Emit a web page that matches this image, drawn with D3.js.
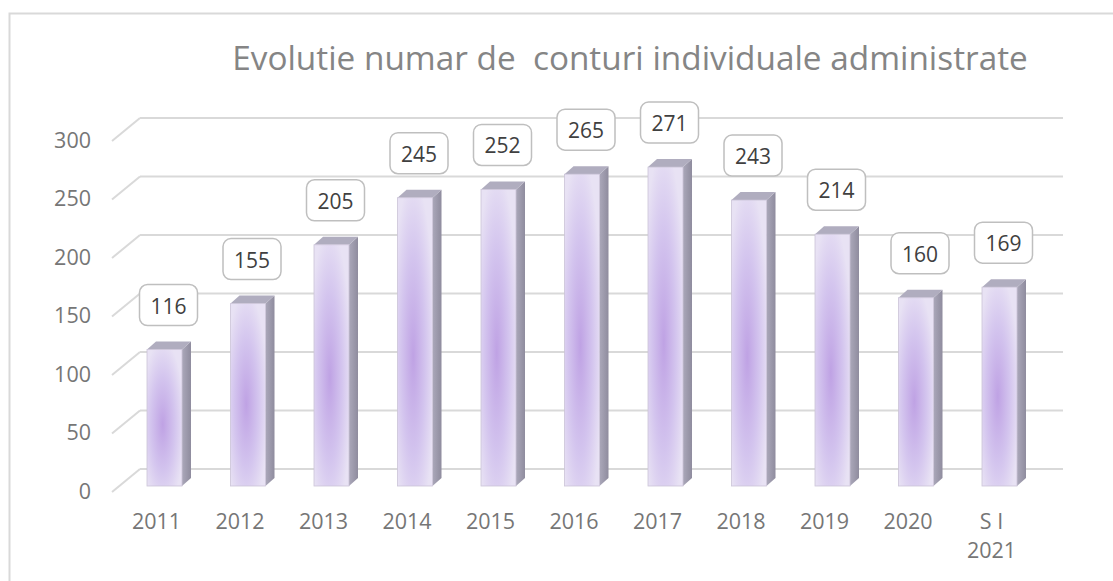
<!DOCTYPE html>
<meta charset="utf-8">
<head>
<script src="https://d3js.org/d3.v7.min.js"></script>
<style>
  body { margin: 0; background: #fff; }
  text { font-family: "Open Sans", sans-serif; }
</style>
</head>
<body>
<div id="chart"></div>
<script>

// data
var categories = ["2011", "2012", "2013", "2014", "2015", "2016", "2017", "2018", "2019", "2020", "S I\n2021"];
var values = [116, 155, 205, 245, 252, 265, 271, 243, 214, 160, 169];
var yTicks = [0, 50, 100, 150, 200, 250, 300];
var title = "Evolutie numar de  conturi individuale administrate";

var W = 1113, H = 581;
var depthX = 9, depthY = 8;      // bar depth offset
var floorX = 28, floorY = 23;    // front-to-back wall offset
var barW = 35;

var svg = d3.select("#chart").append("svg")
    .attr("width", W).attr("height", H);

// gradients
var defs = svg.append("defs");
var front = defs.append("radialGradient").attr("id", "front")
    .attr("cx", "0.45").attr("cy", "0.55").attr("r", "0.62");
front.append("stop").attr("offset", "0%").attr("stop-color", "#bfa2e4");
front.append("stop").attr("offset", "55%").attr("stop-color", "#d3c4ee");
front.append("stop").attr("offset", "100%").attr("stop-color", "#e8e2f4");
var side = defs.append("linearGradient").attr("id", "side");
side.append("stop").attr("offset", "0%").attr("stop-color", "#aba8ba");
side.append("stop").attr("offset", "100%").attr("stop-color", "#8f8c9e");

// outer frame
svg.append("rect")
    .attr("x", 9.5).attr("y", 13.5)
    .attr("width", W + 20).attr("height", H + 20)
    .attr("fill", "none").attr("stroke", "#d9d9d9").attr("stroke-width", 2);

// title
var t = svg.append("text")
    .attr("x", 630).attr("y", 70)
    .attr("text-anchor", "middle")
    .style("font-size", "29px")
    .style("fill", "#858585")
    .style("white-space", "pre")
    .text(title);
var tl = t.node().getComputedTextLength();
t.style("font-size", (29 * 796 / tl) + "px");

// scales
var yWall = d3.scaleLinear().domain([0, 300]).range([469, 118]);
var yBar = d3.scaleLinear().domain([0, 300]).range([486, 133]);
var x = d3.scalePoint().domain(categories).range([164.5, 999.5]);

// back wall gridlines + floor diagonals
var grid = svg.append("g");
grid.selectAll(".gl").data(yTicks).enter().append("line")
    .attr("x1", 140).attr("x2", 1063)
    .attr("y1", function(d) { return yWall(d); })
    .attr("y2", function(d) { return yWall(d); })
    .attr("stroke", "#d9d9d9").attr("stroke-width", 2);
grid.selectAll(".dg").data(yTicks).enter().append("line")
    .attr("x1", 140 - floorX).attr("x2", 140)
    .attr("y1", function(d) { return yWall(d) + floorY; })
    .attr("y2", function(d) { return yWall(d); })
    .attr("stroke", "#d9d9d9").attr("stroke-width", 2);

// y axis labels
svg.append("g").selectAll("text").data(yTicks).enter().append("text")
    .attr("x", 91)
    .attr("y", function(d) { return yWall(d) + floorY + 1; })
    .attr("text-anchor", "end")
    .attr("dominant-baseline", "middle")
    .style("font-size", "21.5px")
    .style("fill", "#767676")
    .text(function(d) { return d; });

// bars
var bars = svg.append("g").selectAll("g").data(values).enter().append("g");
function x0(i) { return x(categories[i]) - barW / 2; }
function x1(i) { return x(categories[i]) + barW / 2; }

bars.append("path")  // side face
    .attr("d", function(d, i) {
      var top = yBar(d), base = yBar(0);
      return "M" + x1(i) + "," + top + "L" + (x1(i) + depthX) + "," + (top - depthY) +
        "L" + (x1(i) + depthX) + "," + (base - depthY) + "L" + x1(i) + "," + base + "Z";
    })
    .attr("fill", "url(#side)");
bars.append("path")  // top face
    .attr("d", function(d, i) {
      var top = yBar(d);
      return "M" + x0(i) + "," + top + "L" + (x0(i) + depthX) + "," + (top - depthY) +
        "L" + (x1(i) + depthX) + "," + (top - depthY) + "L" + x1(i) + "," + top + "Z";
    })
    .attr("fill", "#b0adbf");
bars.append("rect")  // front face
    .attr("x", function(d, i) { return x0(i); })
    .attr("y", function(d) { return yBar(d); })
    .attr("width", barW)
    .attr("height", function(d) { return yBar(0) - yBar(d); })
    .attr("fill", "url(#front)")
    .attr("stroke", "#cbc4d8").attr("stroke-width", 0.8);

// value labels in rounded boxes
var lab = svg.append("g").selectAll("g").data(values).enter().append("g")
    .attr("transform", function(d, i) {
      return "translate(" + (x(categories[i]) + 4) + "," + (yBar(d) - depthY - 17 - 20) + ")";
    });
lab.append("rect")
    .attr("x", -29).attr("y", -20).attr("width", 58).attr("height", 41)
    .attr("rx", 8)
    .attr("fill", "#fff").attr("stroke", "#bfbfbf").attr("stroke-width", 1.5);
lab.append("text")
    .attr("y", 1)
    .attr("text-anchor", "middle")
    .attr("dominant-baseline", "central")
    .style("font-size", "21px")
    .style("fill", "#404040")
    .text(function(d) { return d; });

// x axis labels
var xl = svg.append("g").selectAll("text").data(categories).enter().append("text")
    .attr("x", function(d) { return x(d) - 8; })
    .attr("y", 523)
    .attr("text-anchor", "middle")
    .attr("dominant-baseline", "middle")
    .style("font-size", "21.5px")
    .style("fill", "#767676");
xl.each(function(d) {
  var parts = d.split("\n");
  var el = d3.select(this);
  parts.forEach(function(p, k) {
    el.append("tspan").attr("x", x(d) - 8).attr("dy", k === 0 ? 0 : 29).text(p);
  });
});

</script>
</body>
